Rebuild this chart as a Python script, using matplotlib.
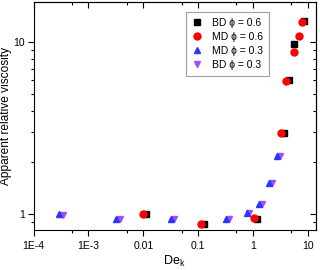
import matplotlib
matplotlib.use("Agg")
import matplotlib.pyplot as plt
from matplotlib.ticker import LogLocator, FixedFormatter, FixedLocator, NullFormatter

plt.rcParams['font.family'] = ['Liberation Sans', 'DejaVu Sans']

# data
bd06_x = [0.0114, 0.127, 1.20, 3.69, 4.62, 5.71, 8.34]
bd06_y = [1.0, 0.871, 0.935, 2.98, 6.0, 9.73, 13.3]

md06_x = [0.00976, 0.112, 1.03, 3.30, 4.08, 5.55, 6.77, 7.67]
md06_y = [1.0, 0.871, 0.948, 2.98, 5.95, 8.79, 10.8, 13.0]

md03_x = [2.92e-4, 3.22e-3, 0.0322, 0.327, 0.767, 1.31, 2.0, 2.75]
md03_y = [1.0, 0.94, 0.94, 0.94, 1.02, 1.15, 1.51, 2.19]

bd03_x = [3.5e-4, 3.7e-3, 0.0366, 0.371, 0.845, 1.46, 2.26, 3.12]
bd03_y = [0.99, 0.94, 0.94, 0.94, 1.02, 1.15, 1.51, 2.19]

x_ticks = [1e-4, 1e-3, 0.01, 0.1, 1, 10]
x_labels = ['1E-4', '1E-3', '0.01', '0.1', '1', '10']
y_ticks = [1, 10]
y_labels = ['1', '10']

fig = plt.figure(figsize=(3.2, 2.7), dpi=100)
ax = fig.add_axes([0.105, 0.148, 0.882, 0.843])

ax.plot(bd06_x, bd06_y, 's', color='black', ms=4.3, label='BD \u03d5 = 0.6', zorder=3)
ax.plot(md06_x, md06_y, 'o', color='#ff0000', ms=5, label='MD \u03d5 = 0.6', zorder=4)
ax.plot(md03_x, md03_y, '^', color='#2a35ff', ms=5, label='MD \u03d5 = 0.3', zorder=3)
ax.plot(bd03_x, bd03_y, 'v', color='#a64bff', ms=5, label='BD \u03d5 = 0.3', zorder=2)

ax.set_xscale('log')
ax.set_yscale('log')
ax.set_xlim(1e-4, 14)
ax.set_ylim(0.808, 17)

ax.xaxis.set_major_locator(FixedLocator(x_ticks))
ax.xaxis.set_major_formatter(FixedFormatter(x_labels))
ax.xaxis.set_minor_locator(LogLocator(base=10, subs=[5], numticks=20))
ax.xaxis.set_minor_formatter(NullFormatter())
ax.yaxis.set_major_locator(FixedLocator(y_ticks))
ax.yaxis.set_major_formatter(FixedFormatter(y_labels))
ax.yaxis.set_minor_locator(LogLocator(base=10, subs=range(2, 10), numticks=20))
ax.yaxis.set_minor_formatter(NullFormatter())

ax.tick_params(which='both', direction='out', labelsize=7.5, width=0.8)
ax.tick_params(which='major', length=4)
ax.tick_params(which='minor', length=2.5)
ax.tick_params(axis='x', pad=4)
ax.tick_params(axis='y', pad=2)

# mirrored ticks pointing inward on top and right
top = ax.secondary_xaxis('top')
top.set_xscale('log')
top.xaxis.set_major_locator(FixedLocator(x_ticks))
top.xaxis.set_minor_locator(LogLocator(base=10, subs=[5], numticks=20))
top.tick_params(which='both', direction='in', labeltop=False, width=0.8)
top.tick_params(which='major', length=4)
top.tick_params(which='minor', length=2.5)
right = ax.secondary_yaxis('right')
right.set_yscale('log')
right.yaxis.set_major_locator(FixedLocator(y_ticks))
right.yaxis.set_minor_locator(LogLocator(base=10, subs=range(2, 10), numticks=20))
right.tick_params(which='both', direction='in', labelright=False, width=0.8)
right.tick_params(which='major', length=4)
right.tick_params(which='minor', length=2.5)

for sp in ax.spines.values():
    sp.set_linewidth(0.8)

ax.set_xlabel('De$_\\mathregular{k}$', fontsize=9, labelpad=2)
ax.set_ylabel('Apparent relative viscosity', fontsize=8.6, labelpad=1)

leg = ax.legend(loc='upper right', bbox_to_anchor=(0.852, 0.98), fontsize=7.5,
                frameon=True, fancybox=False, handletextpad=1.0,
                borderpad=0.55, labelspacing=0.38, handlelength=1.0)
leg.get_frame().set_edgecolor('#888888')
leg.get_frame().set_linewidth(0.8)

fig.savefig('out.png', dpi=100)
